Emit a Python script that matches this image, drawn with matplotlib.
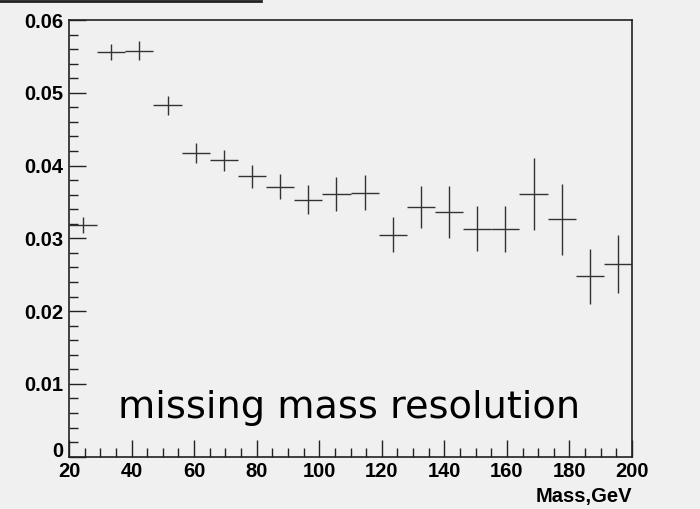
import matplotlib
matplotlib.use("Agg")
import matplotlib.pyplot as plt
import matplotlib.transforms as mtransforms
from matplotlib.lines import Line2D
from matplotlib.ticker import MultipleLocator

BG = "#f0f0f0"
INK = "#222222"

# Histogram: 20 bins of 9 GeV between 20 and 200
bin_width = 9.0
mass_centers = [24.5, 33.5, 42.5, 51.5, 60.5, 69.5, 78.5, 87.5, 96.5, 105.5,
                114.5, 123.5, 132.5, 141.5, 150.5, 159.5, 168.5, 177.5, 186.5, 195.5]
resolution = [0.0318, 0.0556, 0.0558, 0.0483, 0.0417, 0.0407, 0.0385, 0.0371, 0.0353, 0.0361,
              0.0363, 0.0305, 0.0343, 0.0336, 0.0313, 0.0313, 0.0361, 0.0326, 0.0248, 0.0265]
resolution_err = [0.0011, 0.0011, 0.0013, 0.0013, 0.0014, 0.0015, 0.0016, 0.0017, 0.0020, 0.0023,
                  0.0024, 0.0024, 0.0029, 0.0036, 0.0031, 0.0032, 0.0049, 0.0049, 0.0038, 0.0040]
y_ticks = [0, 0.01, 0.02, 0.03, 0.04, 0.05, 0.06]
y_tick_labels = ["0", "0.01", "0.02", "0.03", "0.04", "0.05", "0.06"]

plt.rcParams["font.family"] = ["Liberation Sans", "DejaVu Sans"]

fig = plt.figure(figsize=(7.0, 5.09), dpi=100, facecolor=BG)
ax = fig.add_axes([0.0986, 0.1027, 0.8043, 0.858])
ax.set_facecolor(BG)

ax.errorbar(mass_centers, resolution, xerr=bin_width / 2, yerr=resolution_err,
            fmt="none", ecolor="#333333", elinewidth=1.0, capsize=0)

ax.set_xlim(20, 200)
ax.set_ylim(0, 0.06)

ax.xaxis.set_major_locator(MultipleLocator(20))
ax.xaxis.set_minor_locator(MultipleLocator(5))
ax.set_yticks(y_ticks)
ax.set_yticklabels(y_tick_labels)
ax.yaxis.set_minor_locator(MultipleLocator(0.002))

ax.tick_params(axis="both", which="major", direction="in", length=12.5, width=1.0,
               colors=INK, labelsize=14.5, pad=4)
ax.tick_params(axis="both", which="minor", direction="in", length=6.5, width=1.0, colors=INK)
ax.tick_params(top=False, right=False)
for lbl in ax.get_xticklabels() + ax.get_yticklabels():
    lbl.set_fontweight("bold")
    lbl.set_color("black")
# the zero label sits just above the corner so it clears the "20"
zero_lbl = ax.get_yticklabels()[0]
zero_lbl.set_va("bottom")
zero_lbl.set_transform(zero_lbl.get_transform()
                       + mtransforms.ScaledTranslation(0, -4 / 100, fig.dpi_scale_trans))

for side in ["left", "bottom", "top", "right"]:
    ax.spines[side].set_color(INK)
    ax.spines[side].set_linewidth(1.2)

ax.set_xlabel("Mass,GeV", fontsize=14.5, fontweight="bold", loc="right", labelpad=4)

ax.text(109.4, 0.0053, "missing mass resolution", fontsize=27.5,
        family="DejaVu Sans", ha="center", va="baseline", color="black")

# thin rule along the top-left edge of the canvas
fig.add_artist(Line2D([0, 261 / 700], [0.999, 0.999], transform=fig.transFigure,
                      color=INK, lw=2.0))

fig.savefig("out.png", dpi=100, facecolor=BG)
